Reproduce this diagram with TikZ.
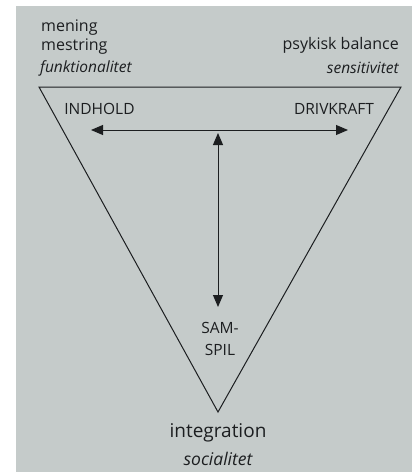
\documentclass[tikz,border=0pt]{standalone}
\usepackage{fontspec}
\setmainfont{Open Sans}
\usetikzlibrary{arrows.meta}
\definecolor{paper}{RGB}{197,203,202}
\definecolor{ink}{RGB}{28,30,32}
\begin{document}
\begin{tikzpicture}[x=1pt,y=-1pt,
  lbl/.style={text=ink,inner sep=0pt,font=\fontsize{16}{19}\selectfont},
  caps/.style={text=ink,inner sep=0pt,font=\fontsize{15.5}{22}\selectfont},
  ital/.style={text=ink,inner sep=0pt,font=\fontsize{15.5}{18}\selectfont\itshape},
  big/.style={text=ink,inner sep=0pt,font=\fontsize{19}{21}\selectfont},
  bigital/.style={text=ink,inner sep=0pt,font=\fontsize{17.5}{19}\selectfont\itshape},
  tri/.style={draw=ink,line width=1pt,line join=miter},
  dbl/.style={draw=ink,line width=1pt,{Triangle[length=12pt,width=10pt]}-{Triangle[length=12pt,width=10pt]}}]
\useasboundingbox (0,0) rectangle (412,472);
\fill[white] (0,0) rectangle (412,472);
\fill[paper] (16,6) rectangle (412,472);
% triangle
\coordinate (TL) at (39,87);
\coordinate (TR) at (401,87);
\coordinate (B) at (218,412);
\draw[tri] (TL) -- (TR) -- (B) -- cycle;
% corner labels
\node[lbl,anchor=west] (mening) at (41,28) {mening};
\node[lbl,anchor=west] (mestring) at (41,47) {mestring};
\node[ital,anchor=west] (funk) at (40,68) {funktionalitet};
\node[lbl,anchor=east] (psyk) at (399,45) {psykisk balance};
\node[ital,anchor=east] (sens) at (399,68) {sensitivitet};
\node[caps] (indhold) at (99.5,109) {INDHOLD};
\node[caps] (drivkraft) at (334,109) {DRIVKRAFT};
\node[caps,align=center] (samspil) at (220,339) {SAM-\\SPIL};
\node[big] (integration) at (218,433) {integration};
\node[bigital] (social) at (218,459) {socialitet};
% arrows
\coordinate (hl) at (91,130);
\coordinate (hr) at (348,130);
\coordinate (vt) at (218,133);
\coordinate (vb) at (218,307);
\draw[dbl] (hl) -- (hr);
\draw[dbl] (vt) -- (vb);
\end{tikzpicture}
\end{document}
